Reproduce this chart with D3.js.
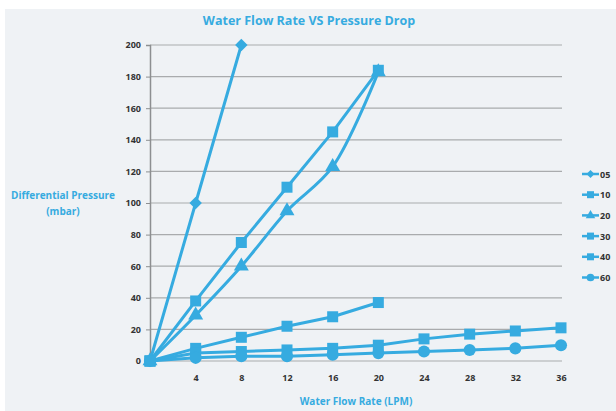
<!DOCTYPE html>
<html>
<head>
<meta charset="utf-8">
<script src="https://cdn.jsdelivr.net/npm/d3@7"></script>
<style>
  body { margin: 0; background: #fff; }
  svg { display: block; }
  text { font-family: "Open Sans", "DejaVu Sans", sans-serif; }
</style>
</head>
<body>
<svg id="chart" width="616" height="411"></svg>
<script>
// Chart data
const flowRates = [0, 4, 8, 12, 16, 20, 24, 28, 32, 36];
const seriesNames = ['05', '10', '20', '30', '40', '60'];
const seriesMarkers = ['diamond', 'square', 'triangle', 'square', 'square', 'circle'];
const values05 = [0, 100, 200];
const values10 = [0, 38, 75, 110, 145, 184];
const values20 = [0, 29, 60, 95, 123, 183];
const values30 = [0, 8, 15, 22, 28, 37];
const values40 = [0, 5, 6, 7, 8, 10, 14, 17, 19, 21];
const values60 = [0, 2, 3, 3, 4, 5, 6, 7, 8, 10];
const yTicks = [0, 20, 40, 60, 80, 100, 120, 140, 160, 180, 200];
const xTicks = [4, 8, 12, 16, 20, 24, 28, 32, 36];

const allValues = [values05, values10, values20, values30, values40, values60];
const blue = '#36abe0';

const svg = d3.select('#chart');

// panel background
svg.append('rect')
    .attr('x', 5).attr('y', 9)
    .attr('width', 611).attr('height', 402)
    .attr('fill', '#eff2f5');

const x = d3.scaleLinear().domain([0, 36]).range([150, 561]);
const y = d3.scaleLinear().domain([0, 200]).range([361, 45]);

// gridlines
svg.append('g')
    .selectAll('line')
    .data(yTicks)
    .join('line')
    .attr('x1', x(0)).attr('x2', 562)
    .attr('y1', d => y(d)).attr('y2', d => y(d))
    .attr('stroke', '#a9abad')
    .attr('stroke-width', 1.2);

// y axis
const yAxis = svg.append('g')
    .attr('transform', `translate(${x(0)},0)`)
    .call(d3.axisLeft(y).tickValues(yTicks).tickSize(4).tickPadding(5));
yAxis.select('.domain').attr('stroke', '#8d8f91').attr('stroke-width', 1.5);
yAxis.selectAll('.tick line').attr('stroke', '#8d8f91');
yAxis.selectAll('text')
    .attr('fill', '#333')
    .attr('font-size', '9px')
    .attr('font-weight', 'bold');

// x axis
const xAxis = svg.append('g')
    .attr('transform', `translate(0,${y(0)})`)
    .call(d3.axisBottom(x).tickValues(xTicks).tickSize(0).tickPadding(14));
xAxis.select('.domain').remove();
xAxis.selectAll('text')
    .attr('fill', '#333')
    .attr('font-size', '9px')
    .attr('font-weight', 'bold');

// titles
svg.append('text')
    .attr('x', 309).attr('y', 25)
    .attr('text-anchor', 'middle')
    .attr('fill', blue)
    .attr('font-size', '12.5px')
    .attr('font-weight', 'bold')
    .text('Water Flow Rate VS Pressure Drop');

svg.append('text')
    .attr('x', 356).attr('y', 405)
    .attr('text-anchor', 'middle')
    .attr('fill', blue)
    .attr('font-size', '10px')
    .attr('font-weight', 'bold')
    .text('Water Flow Rate (LPM)');

const yTitle = svg.append('text')
    .attr('text-anchor', 'middle')
    .attr('fill', blue)
    .attr('font-size', '10px')
    .attr('font-weight', 'bold');
yTitle.append('tspan').attr('x', 63).attr('y', 199).text('Differential Pressure');
yTitle.append('tspan').attr('x', 63).attr('y', 215).text('(mbar)');

// marker drawing
function marker(g, type, size) {
    if (type === 'circle') {
        g.append('circle').attr('r', size * 0.55).attr('fill', blue);
    } else if (type === 'square') {
        g.append('rect')
            .attr('x', -size / 2).attr('y', -size / 2)
            .attr('width', size).attr('height', size)
            .attr('fill', blue);
    } else if (type === 'diamond') {
        const s = size * 0.8;
        g.append('rect')
            .attr('x', -s / 2).attr('y', -s / 2)
            .attr('width', s).attr('height', s)
            .attr('transform', 'rotate(45)')
            .attr('fill', blue);
    } else if (type === 'triangle') {
        g.append('path')
            .attr('d', d3.symbol().type(d3.symbolTriangle).size(size * size * 0.8)())
            .attr('fill', blue);
    }
}

// series lines
allValues.forEach((vals, i) => {
    const pts = vals.map((v, j) => [flowRates[j], v]);
    const line = d3.line()
        .x(d => x(d[0]))
        .y(d => y(d[1]))
        .curve(seriesNames[i] === '20' ? d3.curveCatmullRom.alpha(0.5) : d3.curveLinear);

    svg.append('path')
        .datum(pts)
        .attr('d', line)
        .attr('fill', 'none')
        .attr('stroke', blue)
        .attr('stroke-width', 3)
        .attr('stroke-linejoin', 'round');

    svg.append('g')
        .selectAll('g')
        .data(pts)
        .join('g')
        .attr('transform', d => `translate(${x(d[0])},${y(d[1])})`)
        .each(function () {
            marker(d3.select(this), seriesMarkers[i], 11);
        });
});

// legend
const legend = svg.append('g');
seriesNames.forEach((name, i) => {
    const ly = 174 + i * 20.7;
    legend.append('line')
        .attr('x1', 582).attr('x2', 599)
        .attr('y1', ly).attr('y2', ly)
        .attr('stroke', blue)
        .attr('stroke-width', 2.5);
    const mg = legend.append('g').attr('transform', `translate(590.5,${ly})`);
    marker(mg, seriesMarkers[i], 7);
    legend.append('text')
        .attr('x', 600).attr('y', ly + 3.5)
        .attr('fill', '#333')
        .attr('font-size', '9px')
        .attr('font-weight', 'bold')
        .text(name);
});
</script>
</body>
</html>
